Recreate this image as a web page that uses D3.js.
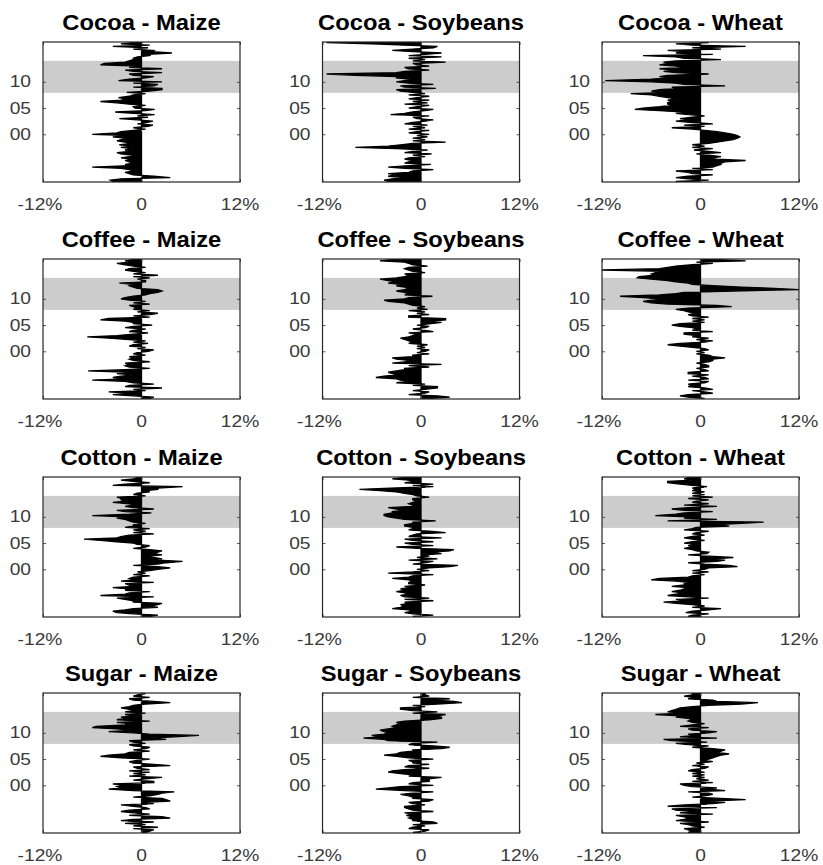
<!DOCTYPE html>
<html><head><meta charset="utf-8">
<script src="https://cdn.jsdelivr.net/npm/d3@7"></script>
<style>body{margin:0;background:#fff}</style>
</head><body>
<svg id="chart" width="823" height="865"></svg>
<script>
const rowNames = ["Cocoa", "Coffee", "Cotton", "Sugar"];
const colNames = ["Maize", "Soybeans", "Wheat"];
const startYear = 1991, stepYears = 0.25;
const xTickValues = [-12, 0, 12];
const xTickLabels = ["-12%", "0", "12%"];
const yTickValues = [2000, 2005, 2010];
const yTickLabels = ["00", "05", "10"];
const shadeBand = [2007.9, 2014.0];

const cocoaMaize = [
-3.5,-3.8,-2.5,3.5,1.5,-1,-1.5,-2,-1,-1.5,
-2.5,-6,-1.5,-2,-1,-1.5,-2,-1,-2.5,-1.5,
-1,-2.5,-3,-1.5,-2,-1,-2.5,-1,-2.7,-1.5,
-2,-3,-2.5,-2,-3.5,-1.5,-6,-3,-2.5,-1,
0.5,-1,0.8,1.4,-0.5,0.6,1.4,-0.5,-2.7,0.8,
-0.5,1.6,-1,-3.2,0.5,1.6,-0.8,-1,0.5,-1.5,
-3,-5,-2.5,-2,-2.8,-1.5,-1,0.5,-1.8,1,
2.5,2.5,-1,1.5,2,-1,2.5,-2.8,-1.5,0.5,
1.5,-1,-1.5,2.5,-1,-2,2.5,-1.5,-0.5,-5,
-4.5,-2,-1.5,-1,-1,-0.5,1,0.8,3.7,1.2,
1.5,-1,0.8,-3.5,1,-2.5,-1];
const cocoaSoybeans = [
-4,-4.5,-3.5,-2,-4,-3,-4,-1.5,-1,1.5,
-2,-4,-1.5,1.2,-2,-1.5,-1,-2,-1.5,0.5,
-1,1.3,-2,-1,0.8,-3,-8,-4,-2.5,-1,
3,-1,0.5,-1,0.8,-0.5,1,-1.5,-0.5,1,
-1.5,0.5,-1,0.8,-2,-1,0.5,1.5,-0.5,-1,
1,-3.7,-2,-1,0.5,1.5,-1.5,-0.5,1,-2,
0.8,-1,1,-1.5,-0.5,1,-1.5,0.5,-1,-2.5,
-3,1.8,-2,-2.5,1.5,-1.5,-3,-2,-1,-3,
-3,-8,-11.5,-3,-2,1,-1.5,-2,1,-0.5,
-1,3,-1,0.5,-1.5,2.5,-1.5,0.5,2.5,-1,
-3.5,-1,1.5,2,-2,-6,-11.5];
const cocoaWheat = [
-3,1,-1.5,-3,-1.5,1.5,-1,-1.5,-3,1.5,
-1,1.5,2,2.5,2.5,3,5.5,2,1.5,2.5,
1,-0.5,2.5,1,-0.8,1.5,-1,0.5,-1,1,
2,3,4,4.5,4.8,4.5,4,3,2,0.5,
-1,-3.5,0.5,-2,1.5,-1,-3,-1.5,-2.5,-1,
0.5,-1.5,-3,-2,-5,-8,-7,-5,-3.5,-4,
-4,-3.5,-4,-3,-4,-5,-6,-8.5,-4,-6,
-5,-3,-3.5,3,-2,-3,-6,-11.6,-6,-4,
-5,-4,1,-3,-4.5,-3,-5,-2,-3,-5,
-4,-4.5,-3,2.5,-2,-3,-7,1.5,-3,-2,
-4,2.5,-1,5.5,-1,-3,1];
const coffeeMaize = [
1,1.5,-1,-3.5,-1,-4,0.5,-1,2.5,-2,
-1.5,1.5,-1,-2,-6,-2,-3.5,-2.5,-1,-3,
-1.5,-6.5,-2,1,-1.5,-2,-1.5,-2,1,-1,
-1.5,-1,-1.5,0.5,-1,-0.5,0.8,1.5,-0.5,0.5,
-1.5,-1,0.8,-1,0.5,-1.5,-4,-6.6,-3,-1,
0.8,-1.5,-1,0.5,-2,-1,1.3,-1,-1,-2,
-5,-4,1,-1,1,2,-0.5,1,-1,-0.5,
-1,-1.5,1,-1,0.5,-1.5,-2.5,-2,-1,0.5,
1,2,2.5,2,-0.5,-1,-1.5,-1,-2.7,0.5,
0.5,-0.5,1,-1,2,-1,0.5,-1,-2,-1.5,
0.5,-1,-2,-3,-1.5,-2,-1];
const coffeeSoybeans = [
1,3.5,2,-1.5,0.5,1,-1,0.5,2,2,
-1,0.5,-3,-1.5,-2.5,-3,-5.5,-4.5,-3,-3.5,
-4,-3,-2,-2,1,-1.5,2.5,-3.5,-2,-1.5,
-3,-3.5,-1,-1,1,-0.5,0.5,1,-0.5,0.5,
-0.5,0.8,-1.5,-1,-1.5,-2,-2.5,-1.5,-1,-0.5,
-1.5,1.5,0.5,-1,0.5,1,-0.5,1,2.5,1.5,
3,3,-1.5,-1.5,1,-0.5,0.5,-1.5,0.8,-0.5,
0.5,-1,-1.5,-2,-4,-4.5,-2,-1.5,1.4,-2,
-1.5,-2,-3,-2,-1.5,-2,-3,-2.5,-4,-3,
-4,-5,-3,-2,-1.5,-2,0.5,-1,-1.5,-2,
-1.5,0.8,-1,-1.5,-2,-5,-3.5];
const coffeeWheat = [
0.5,-1.5,-2.5,-1.5,1.5,0.5,-1,1.5,0.5,-1.5,
-1,-1.5,0.5,1,-1.5,1,0.5,-1,1,-1.5,
-1.5,1,0.5,-0.5,1,1,0.5,-0.5,1,1.5,
1.5,3,1.5,1,-0.5,0.5,-0.5,1,0.5,-1,
-2.5,-4,-2.5,0.5,1.5,-0.5,1,-1,-0.5,-2,
-2,1.5,-1,-0.5,-1,-2.5,-3.5,-2.5,0.5,-1,
0.5,-1,1,-1,-1.5,-0.5,-1.5,-2,-3,-1.5,
3.8,2,-4,-6,-7,-6,-5,-7,-9.8,-5,
-3,-2,4,12.2,9,5,1.5,-1,-1.5,-3,
-4,-6,-7.7,-7.5,-5.5,-6,-5.5,-4.5,-12.2,-5,
-4,-3,-1,1.5,-0.5,5.5,2];
const cottonMaize = [
1,2,-1,-3,-3.5,-2,-1,2,1,2,
2.5,-1,-1,-2,-3,1.5,-5,-2,-1.5,1,
-2,-1.5,-3.5,-1,-1.5,-2,1.5,-2.5,-1,-1.5,
-1,1,-1,0.5,-0.5,1,2,3.5,2,-1,
2,3,5,2,2.5,1.5,1,2.5,1.5,2,
2.5,1,-1,0.5,1,-0.5,-1,-3,-5,-7,
-3,-2.5,-1.5,1.5,-1,0.5,-1,1,-2,-1,
-1,0.5,-1,-1.5,-2,-3,-2,-6,-1.5,1.2,
-2,-3,1.5,-1,-2,-1,-1.5,-3.5,-2,-2.5,
-2.5,-3,0.5,-1,-0.5,1,0.5,2,2,5,
-3.5,-2,1,-1,-2.5,-1,-0.5];
const cottonSoybeans = [
-1,1.5,-1,-2,-1,-1.5,-3.5,-2.5,-2,-2.5,
-1.5,-2,1.5,-2,1,-2,-2.5,-1.5,-2,-3,
-2,-2.5,-1.5,-2,0.5,-1.5,-1.5,-1,-1.5,-3.5,
-1.5,-1,1.5,-4,-1,1,-0.5,1,3.5,4.5,
-1,0.5,1.5,-1.5,2,-0.5,1,0.5,2.5,1,
3.5,4,-0.5,-3,1.5,-1,-2,1.5,-1,-2,
2.5,-1.5,-1,-0.5,3,1,-1.5,-1,-1,-2,
-2,-1,-1,1.8,-2,-3,-4,-4.5,-4.5,-3.5,
-3.5,-2,-3,-4,-1,-1,-1.5,-1,-0.5,-1,
-1,1,-0.5,-1,-2,-3,-5,-7.5,-3,1.5,
-1,1.5,-2,-1,-1.5,-3.5,-2];
const cottonWheat = [
-1.5,-1,1,-1.8,-1,1,2.5,-1,0.5,-1,
-3,-4.5,-2,-3,1,-1.5,-4,-3,-2,-3.5,
-2.5,-2,-1.5,-3.5,-2,-2,-1.5,-3,-6,-5,
-1.5,-1,0.5,-1,1,-1,0.5,1,4.5,3.5,
0.5,-1.5,2,3,1.5,4,1,-1.5,0.8,1,
-0.5,-1,-2,-1,-1.5,-0.5,-2,-1,0.5,-1,
-2,-1,0.5,-1,-0.5,1,-2,-1,-0.5,3.5,
2,5,7.7,-4,2,-2,-1.5,-5.5,-3,-2,
1.5,-2,-3.5,-1.5,2,-2,1,-1,-0.5,1,
-1.5,1.5,-1,0.5,-1,0.5,-1,-0.5,-1,0.8,
-1,-2.5,-4,-4,-1,-2,-1.5];
const sugarMaize = [
0.5,1,1.5,-1,2,-1,0.5,-2,1.5,-2.5,
-1,3.5,2.5,-1.5,1,-1,-2.5,-1.5,1,0.5,
-1,-2.5,1.5,0.5,3.5,3,2.5,-1,1,2,
2.5,4,-1,-4,-2.5,-3,-2.5,-3.5,1.5,1.5,
-1,0.5,2.5,-1.5,0.5,-1,1,-1.5,1,-0.5,
-1,3.5,1.5,-1,-1.5,-0.5,1,-2.5,-5,-4,
-2,-1.5,1,-1,0.5,1,-1,-1.5,0.5,-1,
-1.5,3,1,4,7,1,-1,-4,-1,-3,
-6,-5.5,-2,-1.5,-3,1,-3,-2,-2.5,-1,
-2,0.5,-2,-1,-1.5,-2.5,-1.5,-1,0.5,3.5,
1.5,-1,-1.5,1,-1,-0.5,0.5];
const sugarSoybeans = [
-1,0.5,1,-1.5,-1,0.5,-1,2,1.5,-1,
-1,-1.5,-1,-1.8,-1,-2,1.5,-1,-1.5,-2,
-2,0.5,-1,-1.5,1,1.5,-1,-1,-1.5,-2.5,
-1,1.5,-2,-5.5,-4,-2.5,1.5,-1.5,-1,1,
1,1,2.5,-1.5,-1,-2.5,-4,-3.5,-2,1,
-2,-1.5,1,-1,-1,-1.5,1.5,-1.5,-3,-4.5,
-3,-2.5,-1,-1,2.5,3.5,1.5,-1.5,-1,2,
-4,-4.5,-7,-5,-6,-4.5,-4,-4.5,-5,-4,
-3,-3.5,-3,-2.5,-3,-2,1,2.5,2.5,2,
3,-1,2,-1,-2.5,-2.5,0.5,-1,2,5,
4,2,3.5,-1,1,0.5,0.5];
const sugarWheat = [
-1.5,-1,-1.5,-2,0.5,-1,-1.5,-2.5,1,-3,
-2,-1.5,-2,-3,1.5,-2.5,-1,-3,-3.5,2,
-4,-2,1.5,3,1,5.5,2.5,-1,0.5,1.5,
1,-1.5,3,1,2,-1,-2,-2.5,1.5,-1,
1,-0.5,0.5,-1,0.5,-1,0.5,-1.5,-1,0.5,
1,-1,0.5,-0.5,1.5,0.5,1,1.5,2,2.5,
3.5,2,2.5,3,1.5,-1,1,-1.5,-3,0.8,
-3.5,-4.5,2,-2.5,-1,-1.5,1,2,-1,-1.5,
1,-2.5,-1,0.5,-1,-1.5,-1,-1.5,-3,-2.5,
-5.5,-2,-4,-3.5,-3,-2.5,-1,1,5,7,
2,1.5,-1.5,-1,-2,-1,-1];

const seriesGrid = [
  [cocoaMaize, cocoaSoybeans, cocoaWheat],
  [coffeeMaize, coffeeSoybeans, coffeeWheat],
  [cottonMaize, cottonSoybeans, cottonWheat],
  [sugarMaize, sugarSoybeans, sugarWheat]
];

const colX = [43, 322.5, 602];
const rowY = [42, 259, 477, 693];
const W = 197, H = 140;
const FONT = "'Liberation Sans', Arial, Helvetica, sans-serif";

const svg = d3.select("#chart");
svg.append("rect").attr("width", 823).attr("height", 865).attr("fill", "#fff");

const x = d3.scaleLinear().domain([-12, 12]).range([0, W]);
const y = d3.scaleLinear().domain([1990.9, 2017.6]).range([H, 0]);

const area = d3.area()
  .y((d, i) => y(startYear + i * stepYears))
  .x0(x(0))
  .x1(d => x(d))
  .curve(d3.curveLinear);

rowNames.forEach((rn, r) => {
  colNames.forEach((cn, c) => {
    const g = svg.append("g").attr("transform", `translate(${colX[c]},${rowY[r]})`);
    const clipId = `clip-${r}-${c}`;
    g.append("clipPath").attr("id", clipId)
      .append("rect").attr("width", W).attr("height", H);

    const inner = g.append("g").attr("clip-path", `url(#${clipId})`);
    inner.append("rect")
      .attr("x", 0).attr("width", W)
      .attr("y", y(shadeBand[1]))
      .attr("height", y(shadeBand[0]) - y(shadeBand[1]))
      .attr("fill", "#cccccc");
    inner.append("path")
      .datum(seriesGrid[r][c])
      .attr("d", area)
      .attr("fill", "#000")
      .attr("stroke", "#000")
      .attr("stroke-width", 1.3)
      .attr("stroke-linejoin", "miter");

    // ticks (inside, all four sides)
    const tickStyle = sel => {
      sel.select(".domain").remove();
      sel.selectAll("line").attr("stroke", "#555").attr("stroke-width", 1);
      sel.selectAll("text").remove();
    };
    g.append("g").attr("transform", `translate(0,${H})`)
      .call(d3.axisBottom(x).tickValues(xTickValues).tickSize(-3)).call(tickStyle);
    g.append("g")
      .call(d3.axisTop(x).tickValues(xTickValues).tickSize(-3)).call(tickStyle);
    g.append("g")
      .call(d3.axisLeft(y).tickValues(yTickValues).tickSize(-3)).call(tickStyle);
    g.append("g").attr("transform", `translate(${W},0)`)
      .call(d3.axisRight(y).tickValues(yTickValues).tickSize(-3)).call(tickStyle);

    g.append("rect").attr("width", W).attr("height", H)
      .attr("fill", "none").attr("stroke", "#262626").attr("stroke-width", 1.2);

    // x tick labels
    xTickValues.forEach((v, k) => {
      g.append("text")
        .attr("transform", `translate(${x(v) - (k === 0 ? 3 : 0)},${H + 28}) scale(1.2,1)`)
        .attr("text-anchor", "middle")
        .attr("font-family", FONT).attr("font-size", 16)
        .attr("fill", "#3a3a3a")
        .text(xTickLabels[k]);
    });
    // y tick labels
    yTickValues.forEach((v, k) => {
      g.append("text")
        .attr("transform", `translate(-12,${y(v) + 5.5}) scale(1.2,1)`)
        .attr("text-anchor", "end")
        .attr("font-family", FONT).attr("font-size", 16)
        .attr("fill", "#3a3a3a")
        .text(yTickLabels[k]);
    });
    // title
    g.append("text")
      .attr("transform", `translate(${W / 2},-12) scale(1.08,1)`)
      .attr("text-anchor", "middle")
      .attr("font-family", FONT).attr("font-size", 22).attr("font-weight", "bold")
      .attr("fill", "#000")
      .text(`${rn} - ${cn}`);
  });
});
</script>
</body></html>
